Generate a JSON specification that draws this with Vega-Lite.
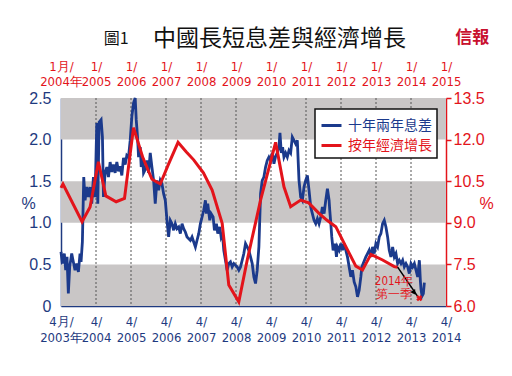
{
  "$schema": "https://vega.github.io/schema/vega-lite/v6.json",
  "autosize": {"type": "none"},
  "width": 385,
  "height": 208,
  "padding": {"left": 61, "top": 98, "right": 66, "bottom": 70},
  "background": "#ffffff",
  "config": {"view": {"stroke": null}, "font": "Liberation Sans"},
  "layer": [
    {
      "data": {"values": [{"lo": 0, "hi": 0.5}, {"lo": 1, "hi": 1.5}, {"lo": 2, "hi": 2.5}]},
      "mark": {"type": "rect", "color": "#c9c6c6"},
      "encoding": {
        "y": {"field": "lo", "type": "quantitative", "scale": {"domain": [0, 2.5], "nice": false, "zero": false}, "axis": null},
        "y2": {"field": "hi"}
      }
    },
    {
      "data": {"values": [{"t": 2004.25}, {"t": 2005.25}, {"t": 2006.25}, {"t": 2007.25}, {"t": 2008.25}, {"t": 2009.25}, {"t": 2010.25}, {"t": 2011.25}, {"t": 2012.25}, {"t": 2013.25}]},
      "mark": {"type": "rule", "strokeDash": [2, 2], "color": "#555555", "strokeWidth": 1},
      "encoding": {
        "x": {"field": "t", "type": "quantitative", "scale": {"domain": [2003.25, 2014.25], "nice": false, "zero": false}, "axis": null}
      }
    },
    {
      "data": {"values": [
        {"t": 2003.25, "v": 0.65}, {"t": 2003.288, "v": 0.51}, {"t": 2003.345, "v": 0.63}, {"t": 2003.384, "v": 0.43}, {"t": 2003.422, "v": 0.59}, {"t": 2003.46, "v": 0.15}, {"t": 2003.498, "v": 0.47}, {"t": 2003.556, "v": 0.63}, {"t": 2003.603, "v": 0.53}, {"t": 2003.651, "v": 0.43}, {"t": 2003.699, "v": 0.51}, {"t": 2003.747, "v": 0.41}, {"t": 2003.794, "v": 0.63}, {"t": 2003.823, "v": 0.53}, {"t": 2003.861, "v": 0.77}, {"t": 2003.9, "v": 1.55}, {"t": 2003.938, "v": 1.27}, {"t": 2003.986, "v": 1.43}, {"t": 2004.033, "v": 1.31}, {"t": 2004.081, "v": 1.43}, {"t": 2004.129, "v": 1.23}, {"t": 2004.176, "v": 1.55}, {"t": 2004.224, "v": 1.31}, {"t": 2004.272, "v": 2.2}, {"t": 2004.301, "v": 1.23}, {"t": 2004.339, "v": 2.21}, {"t": 2004.396, "v": 2.24}, {"t": 2004.434, "v": 2.03}, {"t": 2004.463, "v": 1.31}, {"t": 2004.511, "v": 1.6}, {"t": 2004.559, "v": 1.67}, {"t": 2004.606, "v": 1.55}, {"t": 2004.654, "v": 1.73}, {"t": 2004.702, "v": 1.61}, {"t": 2004.749, "v": 1.7}, {"t": 2004.797, "v": 1.6}, {"t": 2004.845, "v": 1.73}, {"t": 2004.893, "v": 1.62}, {"t": 2004.94, "v": 1.68}, {"t": 2004.988, "v": 1.57}, {"t": 2005.036, "v": 1.78}, {"t": 2005.084, "v": 1.7}, {"t": 2005.131, "v": 1.81}, {"t": 2005.179, "v": 1.79}, {"t": 2005.227, "v": 1.99}, {"t": 2005.275, "v": 2.28}, {"t": 2005.322, "v": 2.44}, {"t": 2005.37, "v": 2.5}, {"t": 2005.399, "v": 2.24}, {"t": 2005.437, "v": 2.03}, {"t": 2005.466, "v": 1.79}, {"t": 2005.514, "v": 1.91}, {"t": 2005.542, "v": 1.67}, {"t": 2005.58, "v": 1.8}, {"t": 2005.609, "v": 1.6}, {"t": 2005.657, "v": 1.64}, {"t": 2005.705, "v": 1.75}, {"t": 2005.752, "v": 1.6}, {"t": 2005.8, "v": 1.84}, {"t": 2005.848, "v": 1.67}, {"t": 2005.896, "v": 1.51}, {"t": 2005.943, "v": 1.23}, {"t": 2005.991, "v": 1.51}, {"t": 2006.039, "v": 1.39}, {"t": 2006.087, "v": 1.51}, {"t": 2006.134, "v": 1.47}, {"t": 2006.182, "v": 1.35}, {"t": 2006.23, "v": 1.27}, {"t": 2006.278, "v": 1.03}, {"t": 2006.325, "v": 0.83}, {"t": 2006.373, "v": 1.03}, {"t": 2006.421, "v": 0.99}, {"t": 2006.469, "v": 0.91}, {"t": 2006.516, "v": 0.99}, {"t": 2006.564, "v": 0.93}, {"t": 2006.612, "v": 0.95}, {"t": 2006.66, "v": 0.87}, {"t": 2006.708, "v": 0.99}, {"t": 2006.755, "v": 0.93}, {"t": 2006.803, "v": 0.89}, {"t": 2006.851, "v": 0.83}, {"t": 2006.946, "v": 0.79}, {"t": 2006.994, "v": 0.83}, {"t": 2007.042, "v": 0.77}, {"t": 2007.09, "v": 0.71}, {"t": 2007.137, "v": 0.79}, {"t": 2007.185, "v": 0.87}, {"t": 2007.233, "v": 0.99}, {"t": 2007.281, "v": 1.07}, {"t": 2007.328, "v": 1.15}, {"t": 2007.376, "v": 1.27}, {"t": 2007.405, "v": 1.11}, {"t": 2007.443, "v": 1.23}, {"t": 2007.5, "v": 1.03}, {"t": 2007.538, "v": 1.11}, {"t": 2007.596, "v": 1.07}, {"t": 2007.634, "v": 0.91}, {"t": 2007.691, "v": 0.99}, {"t": 2007.729, "v": 0.87}, {"t": 2007.787, "v": 0.95}, {"t": 2007.825, "v": 0.83}, {"t": 2007.863, "v": 0.87}, {"t": 2007.901, "v": 0.67}, {"t": 2007.949, "v": 0.55}, {"t": 2007.997, "v": 0.43}, {"t": 2008.044, "v": 0.51}, {"t": 2008.092, "v": 0.53}, {"t": 2008.14, "v": 0.47}, {"t": 2008.188, "v": 0.51}, {"t": 2008.236, "v": 0.49}, {"t": 2008.283, "v": 0.47}, {"t": 2008.331, "v": 0.43}, {"t": 2008.379, "v": 0.47}, {"t": 2008.427, "v": 0.55}, {"t": 2008.474, "v": 0.63}, {"t": 2008.522, "v": 0.75}, {"t": 2008.57, "v": 0.71}, {"t": 2008.617, "v": 0.67}, {"t": 2008.665, "v": 0.59}, {"t": 2008.713, "v": 0.51}, {"t": 2008.761, "v": 0.35}, {"t": 2008.808, "v": 0.27}, {"t": 2008.856, "v": 0.43}, {"t": 2008.904, "v": 0.71}, {"t": 2008.952, "v": 1.35}, {"t": 2009.0, "v": 1.51}, {"t": 2009.047, "v": 1.55}, {"t": 2009.095, "v": 1.67}, {"t": 2009.143, "v": 1.75}, {"t": 2009.19, "v": 1.79}, {"t": 2009.238, "v": 1.75}, {"t": 2009.286, "v": 1.84}, {"t": 2009.334, "v": 1.71}, {"t": 2009.382, "v": 1.8}, {"t": 2009.429, "v": 1.84}, {"t": 2009.477, "v": 1.91}, {"t": 2009.506, "v": 2.08}, {"t": 2009.544, "v": 1.84}, {"t": 2009.582, "v": 1.91}, {"t": 2009.62, "v": 1.79}, {"t": 2009.668, "v": 1.84}, {"t": 2009.716, "v": 1.79}, {"t": 2009.764, "v": 1.87}, {"t": 2009.811, "v": 1.84}, {"t": 2009.859, "v": 2.03}, {"t": 2009.907, "v": 1.99}, {"t": 2009.955, "v": 1.95}, {"t": 2010.002, "v": 1.99}, {"t": 2010.05, "v": 1.51}, {"t": 2010.098, "v": 1.31}, {"t": 2010.146, "v": 1.27}, {"t": 2010.193, "v": 1.43}, {"t": 2010.241, "v": 1.51}, {"t": 2010.289, "v": 1.57}, {"t": 2010.337, "v": 1.39}, {"t": 2010.385, "v": 1.19}, {"t": 2010.432, "v": 1.11}, {"t": 2010.48, "v": 1.03}, {"t": 2010.528, "v": 0.99}, {"t": 2010.576, "v": 1.05}, {"t": 2010.623, "v": 0.99}, {"t": 2010.671, "v": 1.07}, {"t": 2010.719, "v": 1.19}, {"t": 2010.767, "v": 1.11}, {"t": 2010.814, "v": 1.27}, {"t": 2010.862, "v": 1.41}, {"t": 2010.91, "v": 1.27}, {"t": 2010.929, "v": 1.15}, {"t": 2010.958, "v": 1.0}, {"t": 2010.986, "v": 0.83}, {"t": 2011.025, "v": 0.67}, {"t": 2011.082, "v": 0.75}, {"t": 2011.12, "v": 0.59}, {"t": 2011.149, "v": 0.71}, {"t": 2011.196, "v": 0.67}, {"t": 2011.244, "v": 0.75}, {"t": 2011.292, "v": 0.67}, {"t": 2011.34, "v": 0.75}, {"t": 2011.387, "v": 0.67}, {"t": 2011.435, "v": 0.59}, {"t": 2011.483, "v": 0.47}, {"t": 2011.531, "v": 0.35}, {"t": 2011.578, "v": 0.43}, {"t": 2011.626, "v": 0.29}, {"t": 2011.674, "v": 0.23}, {"t": 2011.722, "v": 0.11}, {"t": 2011.769, "v": 0.19}, {"t": 2011.817, "v": 0.35}, {"t": 2011.846, "v": 0.47}, {"t": 2011.884, "v": 0.51}, {"t": 2011.96, "v": 0.59}, {"t": 2012.008, "v": 0.63}, {"t": 2012.056, "v": 0.67}, {"t": 2012.104, "v": 0.59}, {"t": 2012.152, "v": 0.71}, {"t": 2012.199, "v": 0.63}, {"t": 2012.247, "v": 0.75}, {"t": 2012.295, "v": 0.71}, {"t": 2012.343, "v": 0.83}, {"t": 2012.39, "v": 0.87}, {"t": 2012.438, "v": 0.99}, {"t": 2012.486, "v": 1.03}, {"t": 2012.534, "v": 0.95}, {"t": 2012.582, "v": 0.83}, {"t": 2012.629, "v": 0.67}, {"t": 2012.677, "v": 0.59}, {"t": 2012.725, "v": 0.71}, {"t": 2012.773, "v": 0.59}, {"t": 2012.82, "v": 0.63}, {"t": 2012.868, "v": 0.51}, {"t": 2012.916, "v": 0.55}, {"t": 2012.964, "v": 0.51}, {"t": 2013.011, "v": 0.55}, {"t": 2013.059, "v": 0.47}, {"t": 2013.107, "v": 0.51}, {"t": 2013.155, "v": 0.47}, {"t": 2013.202, "v": 0.39}, {"t": 2013.25, "v": 0.51}, {"t": 2013.298, "v": 0.47}, {"t": 2013.346, "v": 0.51}, {"t": 2013.393, "v": 0.43}, {"t": 2013.441, "v": 0.35}, {"t": 2013.489, "v": 0.55}, {"t": 2013.518, "v": 0.3}, {"t": 2013.536, "v": 0.2}, {"t": 2013.565, "v": 0.12}, {"t": 2013.603, "v": 0.15}, {"t": 2013.632, "v": 0.28}
      ]},
      "mark": {"type": "line", "strokeWidth": 2.8},
      "encoding": {
        "x": {"field": "t", "type": "quantitative", "scale": {"domain": [2003.25, 2014.25], "nice": false, "zero": false},
          "axis": {"orient": "bottom", "values": [2003.25, 2004.25, 2005.25, 2006.25, 2007.25, 2008.25, 2009.25, 2010.25, 2011.25, 2012.25, 2013.25, 2014.25],
            "labelExpr": "datum.value < 2003.5 ? ['4月/', '2003年'] : ['4/', '' + floor(datum.value)]",
            "title": null, "grid": false, "ticks": false, "domainColor": "#1e3a80", "domainWidth": 1.5, "labelColor": "#1e3a80",
            "labelFont": "Liberation Sans Narrow, DejaVu Sans Condensed, Liberation Sans", "labelFontSize": 13, "labelPadding": 9, "labelLineHeight": 16, "labelFlush": false, "labelOverlap": false}},
        "y": {"field": "v", "type": "quantitative", "scale": {"domain": [0, 2.5], "nice": false, "zero": false},
          "axis": {"orient": "left", "values": [0, 0.5, 1, 1.5, 2, 2.5],
            "labelExpr": "datum.value == 0 ? '0' : format(datum.value, '.1f')",
            "title": "%", "titleAngle": 0, "titleX": -33, "titleY": 105, "titleAlign": "center", "titleBaseline": "middle",
            "titleFontSize": 16, "titleFontWeight": "normal", "titleColor": "#1e3a80", "ticks": false, "grid": false,
            "domainColor": "#1e3a80", "domainWidth": 1.5, "labelColor": "#1e3a80", "labelFontSize": 16, "labelPadding": 10, "labelFlush": false}},
        "color": {"datum": "十年兩年息差", "type": "nominal",
          "scale": {"domain": ["十年兩年息差", "按年經濟增長"], "range": ["#1b3a8c", "#e3141b"]},
          "legend": {"title": null, "orient": "none", "legendX": 254, "legendY": 11, "direction": "vertical",
            "symbolType": "stroke", "symbolStrokeWidth": 3, "symbolSize": 400,
            "labelFont": "Noto Sans CJK TC", "labelFontSize": 14, "labelOffset": 5, "rowPadding": 1, "padding": 5,
            "strokeColor": "#111111", "fillColor": "#ffffff", "labelLimit": 200,
            "encode": {
              "legend": {"update": {"strokeWidth": {"value": 1.5}}},
              "labels": {"update": {"fill": {"signal": "datum.value === '十年兩年息差' ? '#1b3a8c' : '#e3141b'"}}}}}}
      }
    },
    {
      "encoding": {
        "x": {"field": "T", "type": "quantitative", "scale": {"domain": [2004, 2015], "nice": false, "zero": false},
          "axis": {"orient": "top", "values": [2004, 2005, 2006, 2007, 2008, 2009, 2010, 2011, 2012, 2013, 2014, 2015],
            "labelExpr": "datum.value < 2004.5 ? ['1月/', '2004年'] : ['1/', '' + datum.value]",
            "title": null, "grid": false, "ticks": false, "domain": false, "labelColor": "#e3141b",
            "labelFont": "Liberation Sans Narrow, DejaVu Sans Condensed, Liberation Sans", "labelFontSize": 13, "labelPadding": 25, "labelLineHeight": 15, "labelFlush": false, "labelOverlap": false}},
        "y": {"field": "g", "type": "quantitative", "scale": {"domain": [6, 13.5], "nice": false, "zero": false},
          "axis": {"orient": "right", "values": [6, 7.5, 9, 10.5, 12, 13.5], "format": ".1f",
            "title": "%", "titleAngle": 0, "titleX": 40, "titleY": 105, "titleAlign": "center", "titleBaseline": "middle",
            "titleFontSize": 16, "titleFontWeight": "normal", "titleColor": "#e3141b", "ticks": true, "tickColor": "#e3141b",
            "tickSize": 5, "tickWidth": 1.5, "domainColor": "#e3141b", "domainWidth": 1.5, "labelColor": "#e3141b",
            "labelFontSize": 16, "labelPadding": 2, "grid": false, "labelFlush": false}}
      },
      "layer": [
        {
          "data": {"values": [
            {"T": 2004.0, "g": 10.26}, {"T": 2004.057, "g": 10.4}, {"T": 2004.602, "g": 9.04}, {"T": 2004.831, "g": 9.57}, {"T": 2005.069, "g": 11.2}, {"T": 2005.281, "g": 9.97}, {"T": 2005.576, "g": 9.76}, {"T": 2005.814, "g": 9.88}, {"T": 2006.072, "g": 12.43}, {"T": 2006.33, "g": 11.38}, {"T": 2006.599, "g": 10.57}, {"T": 2006.837, "g": 10.4}, {"T": 2007.066, "g": 11.1}, {"T": 2007.344, "g": 11.9}, {"T": 2007.582, "g": 11.55}, {"T": 2007.791, "g": 11.27}, {"T": 2008.069, "g": 10.8}, {"T": 2008.318, "g": 10.18}, {"T": 2008.605, "g": 8.98}, {"T": 2008.794, "g": 6.76}, {"T": 2009.08, "g": 6.15}, {"T": 2009.321, "g": 7.66}, {"T": 2009.702, "g": 9.82}, {"T": 2010.132, "g": 11.9}, {"T": 2010.37, "g": 10.3}, {"T": 2010.562, "g": 9.58}, {"T": 2010.848, "g": 9.82}, {"T": 2011.077, "g": 9.72}, {"T": 2011.372, "g": 9.34}, {"T": 2011.593, "g": 9.1}, {"T": 2011.851, "g": 8.86}, {"T": 2012.138, "g": 8.14}, {"T": 2012.424, "g": 7.44}, {"T": 2012.616, "g": 7.3}, {"T": 2012.854, "g": 7.86}, {"T": 2013.189, "g": 7.66}, {"T": 2013.521, "g": 7.42}, {"T": 2013.619, "g": 7.4}
          ]},
          "mark": {"type": "line", "strokeWidth": 3},
          "encoding": {"color": {"datum": "按年經濟增長", "type": "nominal"}}
        },
        {
          "data": {"values": [{"T": 2013.619, "g": 7.4}, {"T": 2014.2, "g": 6.33}]},
          "mark": {"type": "line", "color": "#000000", "strokeWidth": 1.5},
          "encoding": {}
        },
        {
          "data": {"values": [{"T": 2014.09, "g": 6.48}]},
          "mark": {"type": "point", "shape": "triangle-up", "filled": true, "color": "#000000", "size": 35, "angle": 145, "opacity": 1}
        },
        {
          "data": {"values": [{"T": 2014.238, "g": 6.28}]},
          "mark": {"type": "point", "shape": "cross", "filled": true, "color": "#e3141b", "size": 40, "angle": 45, "opacity": 1}
        },
        {
          "data": {"values": [{"T": 2013.513, "g": 6.85, "label": "2014年"}, {"T": 2013.51, "g": 6.4, "label": "第一季"}]},
          "mark": {"type": "text", "color": "#e3141b", "fontSize": 11.5, "font": "Liberation Sans Narrow, DejaVu Sans Condensed, Liberation Sans"},
          "encoding": {"text": {"field": "label"}}
        },
        {
          "data": {"values": [{"T": 2005.576, "g": 15.63, "label": "圖1"}]},
          "mark": {"type": "text", "color": "#111111", "fontSize": 16, "font": "Noto Sans CJK TC"},
          "encoding": {"text": {"field": "label"}}
        },
        {
          "data": {"values": [{"T": 2010.246, "g": 15.63, "label": "中國長短息差與經濟增長"}]},
          "mark": {"type": "text", "color": "#111111", "fontSize": 23, "font": "Noto Sans CJK TC"},
          "encoding": {"text": {"field": "label"}}
        },
        {
          "data": {"values": [{"T": 2015.748, "g": 15.66, "label": "信報"}]},
          "mark": {"type": "text", "color": "#c8102e", "fontSize": 17, "fontWeight": "bold", "font": "Noto Sans CJK TC"},
          "encoding": {"text": {"field": "label"}}
        }
      ]
    }
  ],
  "resolve": {"scale": {"x": "independent", "y": "independent"}, "axis": {"x": "independent", "y": "independent"}}
}
